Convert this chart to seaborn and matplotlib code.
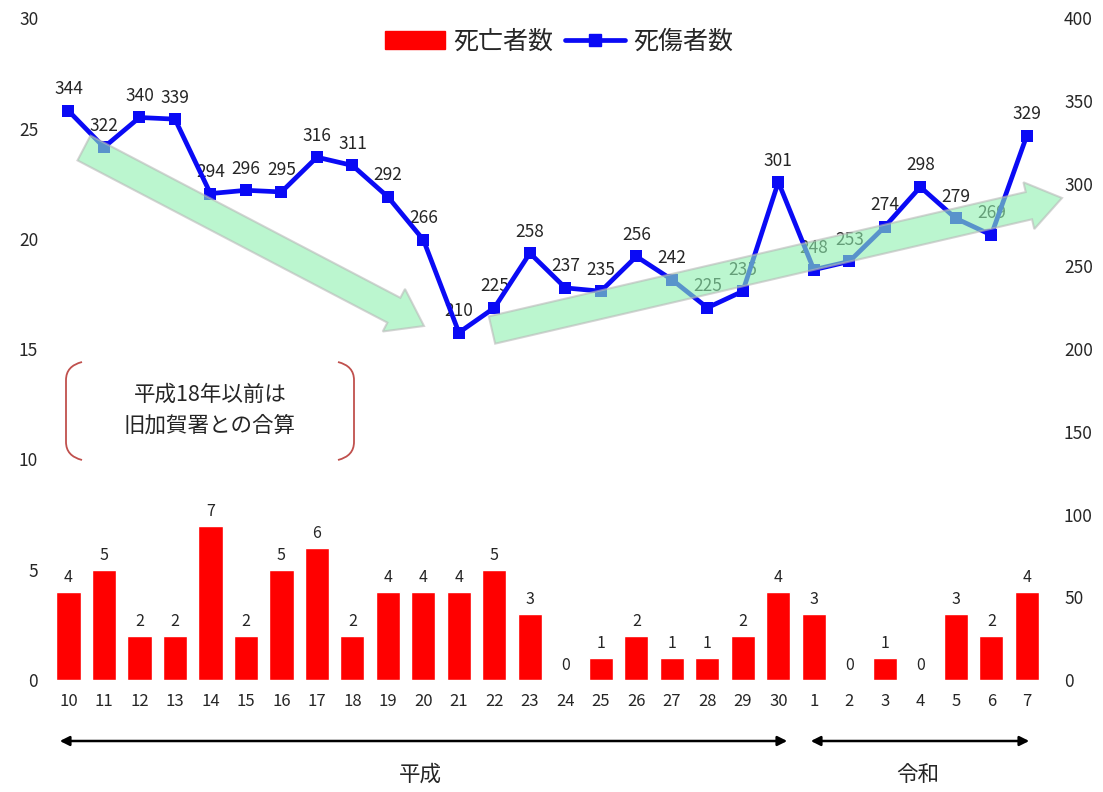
import numpy as np
import pandas as pd
import matplotlib
matplotlib.use("Agg")
import matplotlib.pyplot as plt
from matplotlib.patches import FancyArrow, FancyArrowPatch, PathPatch, Patch
from matplotlib.lines import Line2D
from matplotlib.path import Path
import seaborn as sns

years = ["10", "11", "12", "13", "14", "15", "16", "17", "18", "19", "20",
         "21", "22", "23", "24", "25", "26", "27", "28", "29", "30",
         "1", "2", "3", "4", "5", "6", "7"]
deaths = [4, 5, 2, 2, 7, 2, 5, 6, 2, 4, 4, 4, 5, 3, 0, 1, 2, 1, 1, 2, 4,
          3, 0, 1, 0, 3, 2, 4]
casualties = [344, 322, 340, 339, 294, 296, 295, 316, 311, 292, 266, 210, 225,
              258, 237, 235, 256, 242, 225, 235, 301, 248, 253, 274, 298, 279,
              269, 329]
era_names = ["平成", "令和"]

sns.set_style("white")
plt.rcParams["font.family"] = ["Noto Sans CJK JP", "DejaVu Sans"]

df = pd.DataFrame({"pos": range(len(years)), "deaths": deaths,
                   "casualties": casualties})

W, H = 1103, 792
fig = plt.figure(figsize=(W / 100, H / 100), dpi=100)
ax = fig.add_axes([0.046, 0.1414, 0.901, 0.8356])
ax2 = ax.twinx()

sns.barplot(data=df, x="pos", y="deaths", color="#ff0000", width=0.68,
            saturation=1, ax=ax)
sns.lineplot(data=df, x="pos", y="casualties", color="#0a0af5", lw=3.4,
             marker="s", markersize=9, markeredgewidth=0, ax=ax2)

ax.set_xlim(-0.5, len(years) - 0.5)
ax.set_ylim(0, 30)
ax2.set_ylim(0, 400)
ax.set_yticks(range(0, 31, 5))
ax2.set_yticks(range(0, 401, 50))
ax.set_xticks(range(len(years)))
ax.set_xticklabels(years)
ax.set_xlabel("")
ax.set_ylabel("")
ax2.set_ylabel("")
ax.tick_params(axis="x", labelsize=12, pad=9, length=0)
ax.tick_params(axis="y", labelsize=12.5, pad=9, length=0)
ax2.tick_params(axis="y", labelsize=12.5, pad=14, length=0)
for a in (ax, ax2):
    for s in a.spines.values():
        s.set_visible(False)

for i, v in enumerate(deaths):
    ax.annotate(str(v), (i, v), xytext=(0, 4), textcoords="offset points",
                ha="center", va="bottom", fontsize=11.5)
for i, v in enumerate(casualties):
    ax2.annotate(str(v), (i, v), xytext=(0, 9), textcoords="offset points",
                 ha="center", va="bottom", fontsize=12.5, zorder=1)

# big translucent green trend arrows (drawn in pixel space)
for (x0, y0, x1, y1) in [(84, 148, 424, 326), (492, 330, 1062, 198)]:
    arr = FancyArrow(x0, H - y0, x1 - x0, y0 - y1, width=28, head_width=48,
                     head_length=34, length_includes_head=True,
                     transform=matplotlib.transforms.IdentityTransform(),
                     fc="#8ff0b0", ec="#b8b8b8", alpha=0.6, lw=1.5, zorder=5)
    fig.add_artist(arr)

# legend
handles = [Patch(color="#ff0000", label="死亡者数"),
           Line2D([0], [0], color="#0a0af5", lw=3.4, marker="s",
                  markersize=9, label="死傷者数")]
fig.legend(handles=handles, loc="center", bbox_to_anchor=(0.507, 0.947),
           ncol=2, frameon=False, fontsize=18, handlelength=2.4,
           handletextpad=0.3, columnspacing=0.5)

# note with brackets
fig.text(210 / W, 1 - 410 / H, "平成18年以前は\n旧加賀署との合算",
         ha="center", va="center", fontsize=15.5, linespacing=1.5)


def bracket(x_tip, x_end):
    pts = [(x_end, 362), (x_tip, 366), (x_tip, 380), (x_tip, 442),
           (x_tip, 456), (x_end, 460)]
    pts = [(px / W, 1 - py / H) for px, py in pts]
    codes = [Path.MOVETO, Path.CURVE3, Path.CURVE3, Path.LINETO,
             Path.CURVE3, Path.CURVE3]
    fig.add_artist(PathPatch(Path(pts, codes), fill=False, ec="#c0504d",
                             lw=1.3, transform=fig.transFigure))


bracket(66, 82)
bracket(354, 338)

# era arrows
for (xa, xb, xt, name) in [(57, 790, 420, era_names[0]),
                           (808, 1032, 918, era_names[1])]:
    fig.add_artist(FancyArrowPatch(
        (xa / W, 1 - 741 / H), (xb / W, 1 - 741 / H),
        arrowstyle="<|-|>", mutation_scale=14, color="black", lw=1.8,
        transform=fig.transFigure))
    fig.text(xt / W, 1 - 775 / H, name, ha="center", va="center",
             fontsize=15.5)

fig.savefig("out.png", dpi=100)
